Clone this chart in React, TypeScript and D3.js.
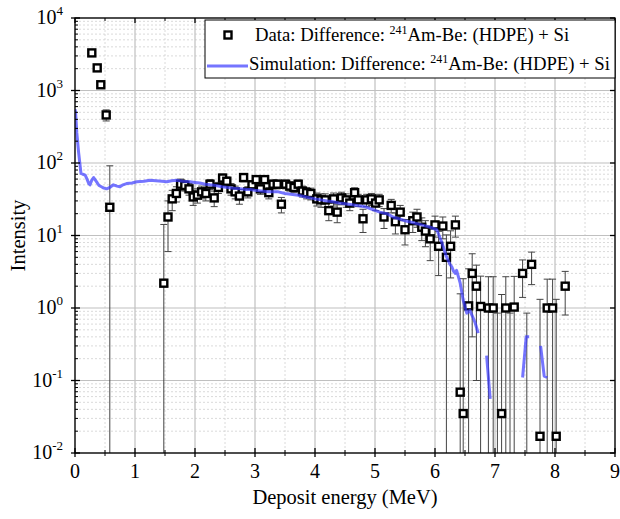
import React from "react";
import * as d3 from "d3";

const dataX = [0.28, 0.37, 0.43, 0.52, 0.58, 1.48, 1.55, 1.62, 1.69, 1.76, 1.83, 1.9, 1.97, 2.04, 2.11, 2.18, 2.25, 2.32, 2.39, 2.46, 2.53, 2.6, 2.67, 2.74, 2.81, 2.88, 2.95, 3.02, 3.09, 3.16, 3.23, 3.3, 3.37, 3.44, 3.51, 3.58, 3.65, 3.72, 3.79, 3.86, 3.93, 4.03, 4.1, 4.17, 4.23, 4.31, 4.37, 4.44, 4.52, 4.58, 4.66, 4.72, 4.8, 4.86, 4.94, 5.01, 5.07, 5.15, 5.27, 5.34, 5.42, 5.5, 5.63, 5.7, 5.78, 5.84, 5.92, 6.0, 6.06, 6.13, 6.19, 6.26, 6.34, 6.42, 6.47, 6.56, 6.62, 6.69, 6.76, 6.89, 6.97, 7.04, 7.11, 7.18, 7.25, 7.32, 7.46, 7.53, 7.61, 7.75, 7.87, 7.96, 8.02, 8.17];
const dataY = [3300, 2050, 1200, 460, 24.5, 2.2, 18, 32, 38, 51, 49, 44, 34, 36, 40, 38, 51, 33, 46, 62, 56, 44, 40, 35, 63, 40, 50, 59, 44, 59, 39, 51, 51, 27, 51, 48, 46, 51, 41, 39, 38, 32, 31, 31, 22, 32, 21, 33, 31, 28, 39, 31, 17, 31, 32, 28, 31, 18, 26, 15.5, 21, 12, 16, 18, 13, 11.5, 9, 14, 7.1, 13.5, 5.0, 7.1, 14, 0.069, 0.035, 1.07, 3.0, 2.0, 1.05, 1.0, 1.0, 0, 0.035, 1.0, 0, 1.03, 3.0, 0, 4.0, 0.017, 1.0, 1.0, 0.017, 2.0];
const dataErr = [150, 120, 100, 80, 67, 12, 12, 10, 9, 9, 8, 8, 8, 8, 8, 8, 8, 8, 8, 8, 8, 8, 8, 8, 8, 7, 7, 7, 7, 7, 7, 7, 7, 6.5, 7, 7, 7, 7, 7, 7, 7, 6.5, 6.5, 6.5, 6, 6.5, 6, 6.5, 6.5, 6, 6.5, 6, 6, 6, 6, 6, 6, 5.5, 5.5, 5, 5, 4.6, 5, 5, 4.5, 4.5, 4.5, 4.5, 4.3, 4.5, 5.2, 4.5, 4.5, 1.5, 2.5, 2.4, 2.6, 1.9, 1.7, 1.7, 1.7, 0.85, 1.5, 1.7, 0.85, 1.7, 1.6, 0.85, 1.9, 1.3, 1.5, 1.5, 1.3, 1.2];

const simX = [0.0, 0.01, 0.03, 0.06, 0.08, 0.1, 0.13, 0.17, 0.2, 0.23, 0.25, 0.28, 0.31, 0.34, 0.36, 0.4, 0.44, 0.48, 0.53, 0.58, 0.64, 0.7, 0.75, 0.8, 0.86, 0.95, 1.03, 1.15, 1.25, 1.35, 1.45, 1.53, 1.61, 1.69, 1.8, 1.92, 2.0, 2.08, 2.17, 2.25, 2.35, 2.45, 2.55, 2.64, 2.75, 2.85, 2.92, 3.0, 3.1, 3.22, 3.3, 3.39, 3.5, 3.6, 3.72, 3.85, 4.0, 4.1, 4.2, 4.28, 4.4, 4.56, 4.7, 4.83, 4.95, 5.08, 5.2, 5.3, 5.4, 5.5, 5.64, 5.78, 5.92, 6.03, 6.11, 6.19, 6.25, 6.28, 6.31, 6.34, 6.36, 6.42, 6.47, 6.53, 6.58, 6.63, 6.67, 6.72, 6.78, 6.86, 6.92, 6.97, 7.46, 7.52, 7.57, 7.65, 7.76, 7.82, 7.87];
const simY: (number | null)[] = [550, 500, 260, 140, 100, 72, 70, 68, 60, 52, 50, 58, 63, 58, 55, 49, 47, 45, 44, 46, 50, 48, 47, 50, 52, 53, 55, 56, 58, 57, 56, 55, 57, 58, 56, 55, 54, 53, 51, 50, 49, 47, 46, 45, 44, 43, 43, 42, 41, 40, 40, 40, 38, 37, 36, 34, 32, 31, 30, 29.5, 28, 27, 26, 25, 23, 21, 20, 18, 17, 16, 15, 14, 13, 12, 8.2, 5.1, 4.0, 3.7, 3.2, 3.0, 3.3, 2.2, 1.28, 0.85, 0.93, 0.75, 0.62, 0.45, null, 0.22, 0.056, null, 0.11, 0.4, 0.4, null, 0.3, 0.115, 0.11];

const xTicks = [0, 1, 2, 3, 4, 5, 6, 7, 8, 9];
const yExps = [-2, -1, 0, 1, 2, 3, 4];

const legendLabels = ["Data: Difference: ", "Simulation: Difference: "];

export default function App() {
  const W = 620, H = 519;
  const L = 75, R = 615, T = 18, B = 453;
  const x = d3.scaleLinear().domain([0, 9]).range([L, R]);
  const y = d3.scaleLog().domain([1e-2, 1e4]).range([B, T]);
  const font = "'Liberation Serif', 'Times New Roman', serif";

  const minorY: number[] = [];
  for (let e = -2; e < 4; e++) for (let k = 2; k <= 9; k++) minorY.push(k * Math.pow(10, e));
  const halfX = d3.range(0.5, 9, 1);

  const simPts = simX.map((v, i) => [v, simY[i]] as [number, number | null]);
  const line = d3.line<[number, number | null]>()
    .defined((d) => d[1] !== null && (d[1] as number) > 0)
    .x((d) => x(d[0]))
    .y((d) => y(d[1] as number));

  const cap = 3.5;
  const sq = 7;

  return (
    <svg width={W} height={H} style={{ display: "block", position: "absolute", left: 0, top: 0 }} fontFamily={font}>
      <defs>
        <clipPath id="plot"><rect x={L} y={T} width={R - L} height={B - T} /></clipPath>
      </defs>
      <rect x={0} y={0} width={W} height={H} fill="#fff" />
      <g>
        {minorY.map((v, i) => (
          <line key={"my" + i} x1={L} x2={R} y1={y(v)} y2={y(v)} stroke="#d0d0d0" strokeWidth={0.8} strokeDasharray="2,2" />
        ))}
        {halfX.map((v, i) => (
          <line key={"mx" + i} x1={x(v)} x2={x(v)} y1={T} y2={B} stroke="#d0d0d0" strokeWidth={0.8} strokeDasharray="2,2" />
        ))}
        {yExps.map((e) => (
          <line key={"gy" + e} x1={L} x2={R} y1={y(Math.pow(10, e))} y2={y(Math.pow(10, e))} stroke="#c0c0c0" strokeWidth={1.2} />
        ))}
        {xTicks.map((v) => (
          <line key={"gx" + v} x1={x(v)} x2={x(v)} y1={T} y2={B} stroke="#c0c0c0" strokeWidth={1.2} />
        ))}
      </g>
      <g clipPath="url(#plot)">
        {dataX.map((xv, i) => {
          const v = dataY[i], e = dataErr[i];
          const hi = v + e;
          const lo = v - e;
          const yLo = lo > 1e-2 ? y(lo) : B + 2;
          const px = x(xv);
          return (
            <g key={"e" + i} stroke="#444" strokeWidth={1}>
              <line x1={px} x2={px} y1={y(hi)} y2={yLo} />
              <line x1={px - cap} x2={px + cap} y1={y(hi)} y2={y(hi)} />
              {lo > 1e-2 && <line x1={px - cap} x2={px + cap} y1={y(lo)} y2={y(lo)} />}
            </g>
          );
        })}
        {dataX.map((xv, i) => dataY[i] > 0 ? (
          <rect key={"m" + i} x={x(xv) - sq / 2} y={y(dataY[i]) - sq / 2} width={sq} height={sq} fill="#fff" stroke="#000" strokeWidth={2.4} />
        ) : null)}
        <path d={line(simPts) || ""} fill="none" stroke="#3a3aff" strokeOpacity={0.7} strokeWidth={3} strokeLinejoin="round" />
      </g>
      <rect x={L} y={T} width={R - L} height={B - T} fill="none" stroke="#000" strokeWidth={1.3} />
      {yExps.map((e) => (
        <line key={"yt" + e} x1={L - 4} x2={L + 5} y1={y(Math.pow(10, e))} y2={y(Math.pow(10, e))} stroke="#000" strokeWidth={1.3} />
      ))}
      {yExps.map((e) => (
        <line key={"ytr" + e} x1={R - 5} x2={R} y1={y(Math.pow(10, e))} y2={y(Math.pow(10, e))} stroke="#000" strokeWidth={1.3} />
      ))}
      {minorY.map((v, i) => (
        <line key={"ym" + i} x1={L} x2={L + 3} y1={y(v)} y2={y(v)} stroke="#000" strokeWidth={1} />
      ))}
      {xTicks.map((v) => (
        <g key={"xt" + v} stroke="#000" strokeWidth={1.3}>
          <line x1={x(v)} x2={x(v)} y1={B - 5} y2={B + 4} />
          <line x1={x(v)} x2={x(v)} y1={T} y2={T + 5} />
        </g>
      ))}
      {halfX.map((v, i) => (
        <g key={"xm" + i} stroke="#000" strokeWidth={1}>
          <line x1={x(v)} x2={x(v)} y1={B - 3} y2={B + 3} />
          <line x1={x(v)} x2={x(v)} y1={T} y2={T + 3} />
        </g>
      ))}
      {xTicks.map((v) => (
        <text key={"xl" + v} x={x(v)} y={478} textAnchor="middle" fontSize={20} fill="#000">{v}</text>
      ))}
      {yExps.map((e) => (
        <text key={"yl" + e} x={L - 12} y={y(Math.pow(10, e)) + 6} textAnchor="end" fontSize={20} fill="#000">
          10<tspan fontSize={13} dy={-9}>{e}</tspan>
        </text>
      ))}
      <text x={(L + R) / 2 + 0} y={504} textAnchor="middle" fontSize={20.5} fill="#000">Deposit energy (MeV)</text>
      <text transform={`translate(25,${(T + B) / 2}) rotate(-90)`} textAnchor="middle" fontSize={20.5} fill="#000">Intensity</text>
      <g>
        <rect x={205} y={20} width={R - 205} height={58} fill="#fff" stroke="#000" strokeWidth={1} />
        <rect x={228 - sq / 2} y={35 - sq / 2} width={sq} height={sq} fill="#fff" stroke="#000" strokeWidth={2.4} />
        <text x={255} y={41} fontSize={18.7} fill="#000">
          {legendLabels[0]}<tspan fontSize={12} dy={-7}>241</tspan><tspan dy={7}>Am-Be: (HDPE) + Si</tspan>
        </text>
        <line x1={207} x2={248} y1={66} y2={66} stroke="#3a3aff" strokeOpacity={0.7} strokeWidth={3} />
        <text x={249} y={70} fontSize={18.7} fill="#000">
          {legendLabels[1]}<tspan fontSize={12} dy={-7}>241</tspan><tspan dy={7}>Am-Be: (HDPE) + Si</tspan>
        </text>
      </g>
    </svg>
  );
}
